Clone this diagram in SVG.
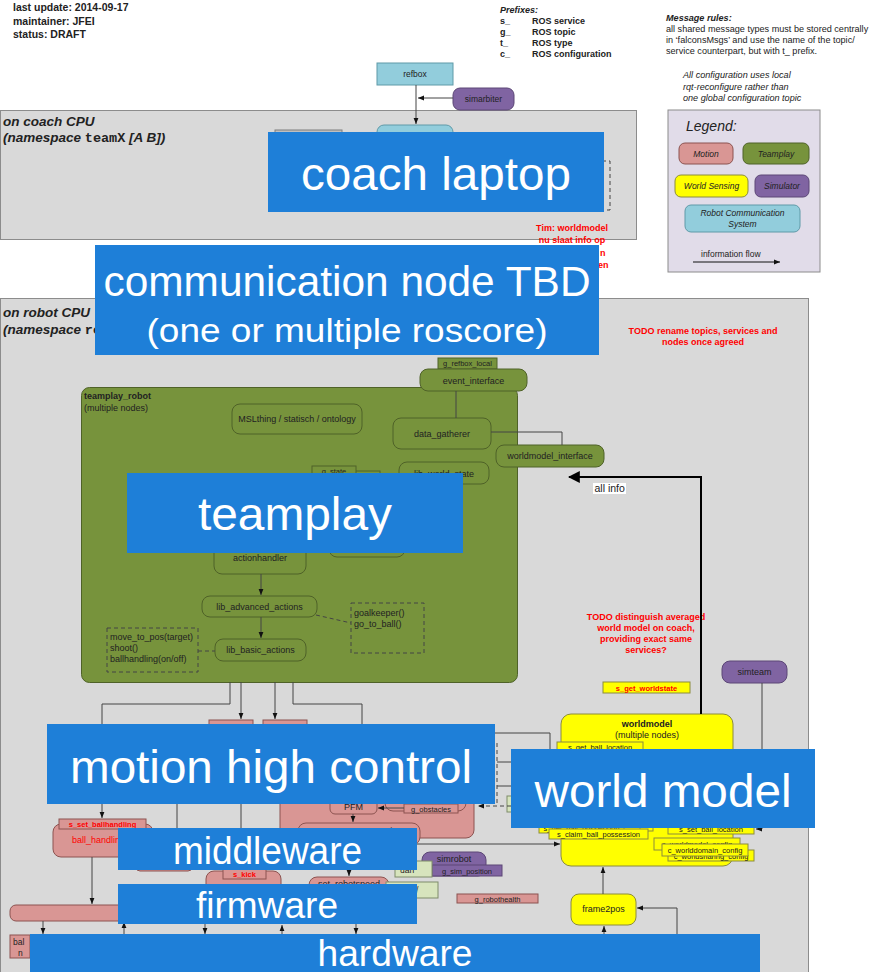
<svg xmlns="http://www.w3.org/2000/svg" width="869" height="972" viewBox="0 0 869 972">
<style>
text{font-family:"Liberation Sans",Arial,sans-serif;fill:#222}
.b{font-weight:bold}
.i{font-style:italic}
.s9{font-size:9px}
.s8{font-size:8.5px}
.s7{font-size:7.5px}
.c{text-anchor:middle}
.red{fill:#ff0000}
.mono{font-family:"Liberation Mono",monospace;font-style:normal}
.box{fill:#d9d9d9;stroke:#8c8c8c;stroke-width:1}
.gr{fill:#77933c;stroke:#4f6228;stroke-width:1}
.sa{fill:#d99694;stroke:#8c5350;stroke-width:1}
.ye{fill:#ffff00;stroke:#8c8c3c;stroke-width:1}
.pu{fill:#8064a2;stroke:#5c4776;stroke-width:1}
.lb{fill:#92cddc;stroke:#5f9aa8;stroke-width:1}
.lg{fill:#d7e4bd;stroke:#7f8c6a;stroke-width:1}
.dash{fill:none;stroke:#444;stroke-width:1;stroke-dasharray:4 3}
.ln{fill:none;stroke:#444;stroke-width:1}
.ov rect{fill:#1e7fd8}
.ov text{fill:#ffffff;text-anchor:middle}
</style>
<defs>
<marker id="ar" viewBox="0 0 10 10" refX="10" refY="5" markerWidth="6" markerHeight="6" orient="auto"><path d="M0,1 L10,5 L0,9 z" fill="#111"/></marker>
<marker id="arb" viewBox="0 0 10 10" refX="9" refY="5" markerWidth="12" markerHeight="12" markerUnits="userSpaceOnUse" orient="auto"><path d="M0,0 L10,5 L0,10 z" fill="#000"/></marker>
</defs>

<g id="header">
<text x="13" y="11" class="b" font-size="10.5">last update: 2014-09-17</text>
<text x="13" y="25" class="b" font-size="10.5">maintainer: JFEI</text>
<text x="13" y="38" class="b" font-size="10.5">status: DRAFT</text>
<text x="500" y="13" class="b i" font-size="9">Prefixes:</text>
<text x="500" y="24" class="b" font-size="9">s_</text><text x="532" y="24" class="b" font-size="9">ROS service</text>
<text x="500" y="35" class="b" font-size="9">g_</text><text x="532" y="35" class="b" font-size="9">ROS topic</text>
<text x="500" y="46" class="b" font-size="9">t_</text><text x="532" y="46" class="b" font-size="9">ROS type</text>
<text x="500" y="57" class="b" font-size="9">c_</text><text x="532" y="57" class="b" font-size="9">ROS configuration</text>
<text x="666" y="21" class="b i" font-size="9.1">Message rules:</text>
<text x="666" y="32" font-size="9.1">all shared message types must be stored centrally</text>
<text x="666" y="43" font-size="9.1">in ‘falconsMsgs’ and use the name of the topic/</text>
<text x="666" y="54" font-size="9.1">service counterpart, but with t_ prefix.</text>
<text x="683" y="78" class="i" font-size="9.1">All configuration uses local</text>
<text x="683" y="90" class="i" font-size="9.1">rqt-reconfigure rather than</text>
<text x="683" y="101" class="i" font-size="9.1">one global configuration topic</text>
</g>

<g id="legend">
<rect x="668" y="110" width="152" height="162" fill="#e1dce9" stroke="#8c8c8c"/>
<text x="686" y="131" class="i" font-size="14">Legend:</text>
<rect x="679" y="143" width="54" height="21" rx="6" class="sa"/>
<text x="706" y="156.5" class="i s8 c">Motion</text>
<rect x="743" y="143" width="66" height="21" rx="6" class="gr"/>
<text x="776" y="156.5" class="i s8 c">Teamplay</text>
<rect x="675" y="175" width="73" height="22" rx="6" class="ye"/>
<text x="711.5" y="189" class="i s8 c">World Sensing</text>
<rect x="755" y="175" width="54" height="22" rx="6" class="pu"/>
<text x="782" y="189" class="i s8 c">Simulator</text>
<rect x="685" y="205" width="115" height="27" rx="6" class="lb"/>
<text x="742.5" y="216" class="i s8 c">Robot Communication</text>
<text x="742.5" y="227" class="i s8 c">System</text>
<text x="701" y="257" font-size="8.5">information flow</text>
<line x1="693" y1="262" x2="780" y2="262" stroke="#111" marker-end="url(#ar)"/>
</g>

<g id="coach-cpu">
<rect x="0.5" y="110.5" width="636" height="129" class="box"/>
<text x="3" y="126" class="b i" font-size="13.5">on coach CPU</text>
<text x="3" y="142" class="b i" font-size="13.5">(namespace <tspan class="mono">teamX</tspan> [A B])</text>
</g>

<g id="refbox"><rect x="377" y="63" width="76" height="22" class="lb"/><text x="415" y="77" class="s8 c">refbox</text></g>
<g id="simarbiter"><rect x="453" y="88" width="61" height="22" rx="7" class="pu"/><text x="483.5" y="102" class="s8 c">simarbiter</text></g>
<g id="coach-node"><rect x="377" y="125" width="76" height="30" rx="7" class="lb"/></g>
<g id="coach-grey-node"><rect x="275" y="130" width="67" height="20" fill="#bfbfbf" stroke="#7f7f7f"/></g>
<g id="coach-dashed"><rect x="560" y="161" width="50" height="49" class="dash"/></g>
<g id="note-tim">
<text x="572" y="231" class="b s9 c red">Tim: worldmodel</text>
<text x="572" y="243" class="b s9 c red">nu slaat info op</text>
<text x="600" y="256" class="b s9 red">n</text>
<text x="598" y="268" class="b s9 red">en</text>
</g>

<g id="robot-cpu">
<rect x="0.5" y="298.5" width="808" height="690" class="box"/>
<text x="3" y="317" class="b i" font-size="13.5">on robot CPU</text>
<text x="3" y="334" class="b i" font-size="13.5">(namespace <tspan class="mono">robotX</tspan>)</text>
<text x="703" y="334" class="b s9 c red">TODO rename topics, services and</text>
<text x="703" y="345" class="b s9 c red">nodes once agreed</text>
</g>

<g id="teamplay_robot">
<rect x="81.5" y="387.5" width="436" height="295" rx="8" class="gr"/>
<text x="84" y="399" class="b s9">teamplay_robot</text>
<text x="84" y="411" class="s9" fill="#333">(multiple nodes)</text>
</g>
<g id="g_refbox_local"><rect x="438" y="358" width="59" height="11" class="gr"/><text x="467.5" y="366" class="s7 c">g_refbox_local</text></g>
<g id="event_interface"><rect x="420" y="369" width="107" height="22" rx="8" class="gr"/><text x="473.5" y="383.5" class="s9 c">event_interface</text></g>
<g id="mslthing"><rect x="232" y="404" width="130" height="30" rx="8" class="gr"/><text x="297" y="422" class="s9 c">MSLthing / statisch / ontology</text></g>
<g id="data_gatherer"><rect x="393" y="418" width="98" height="31" rx="8" class="gr"/><text x="442" y="437" class="s9 c">data_gatherer</text></g>
<g id="worldmodel_interface"><rect x="496" y="445" width="108" height="22" rx="8" class="gr"/><text x="550" y="459" class="s9 c">worldmodel_interface</text></g>
<g id="lib_world_state"><rect x="399" y="462" width="90" height="22" rx="8" class="gr"/><text x="444" y="477" class="s9 c">lib_world_state</text></g>
<g id="g_state"><rect x="340" y="471" width="40" height="12" class="gr"/><rect x="312" y="466" width="44" height="10" class="gr"/><text x="334" y="474" class="s7 c">g_state</text></g>
<g id="actionhandler"><rect x="214" y="530" width="92" height="44" rx="8" class="gr"/><text x="260" y="561" class="s9 c">actionhandler</text></g>
<g id="tp-node-right"><rect x="329" y="527" width="76" height="30" rx="8" class="gr"/></g>
<g id="lib_advanced_actions"><rect x="202" y="596" width="115" height="21" rx="8" class="gr"/><text x="259.5" y="610" class="s9 c">lib_advanced_actions</text></g>
<g id="lib_basic_actions"><rect x="215" y="639" width="91" height="22" rx="8" class="gr"/><text x="260.5" y="653" class="s9 c">lib_basic_actions</text></g>
<g id="adv-note"><rect x="351" y="603" width="73" height="50" class="dash"/><text x="354" y="616" class="s9">goalkeeper()</text><text x="354" y="627" class="s9">go_to_ball()</text></g>
<g id="basic-note"><rect x="107" y="628" width="91" height="44" class="dash"/><text x="110" y="640" class="s9">move_to_pos(target)</text><text x="110" y="651" class="s9">shoot()</text><text x="110" y="662" class="s9">ballhandling(on/off)</text></g>

<g id="note-todo-wm">
<text x="646" y="620" class="b s9 c red">TODO distinguish averaged</text>
<text x="646" y="631" class="b s9 c red">world model on coach,</text>
<text x="646" y="642" class="b s9 c red">providing exact same</text>
<text x="646" y="653" class="b s9 c red">services?</text>
</g>
<g id="simteam"><rect x="722" y="661" width="65" height="22" rx="8" class="pu"/><text x="754.5" y="675" class="s9 c">simteam</text></g>
<g id="s_get_worldstate"><rect x="603" y="682" width="87" height="11" class="ye"/><text x="646.5" y="690.5" class="b s7 c red">s_get_worldstate</text></g>
<g id="worldmodel">
<rect x="561" y="714" width="172" height="152" rx="10" class="ye"/>
<text x="647" y="727" class="b s9 c">worldmodel</text>
<text x="647" y="738" class="s9 c">(multiple nodes)</text>
<rect x="557" y="742" width="86" height="10" class="ye"/><text x="600" y="750" class="s7 c">s_get_ball_location</text>
<rect x="539" y="823" width="85" height="10" class="ye"/><text x="581.5" y="831" class="s7 c">s_get_ball_possession</text>
<rect x="640" y="822" width="13" height="9" class="ye"/>
<rect x="549" y="829" width="99" height="10" class="ye"/><text x="598.5" y="837" class="s7 c">s_claim_ball_possession</text>
<rect x="668" y="824" width="86" height="10" class="ye"/><text x="711" y="832" class="s7 c">s_set_ball_location</text>
<rect x="654" y="838" width="86" height="12" class="ye"/><text x="697" y="847" class="s7 c">c_worldmodel_config</text>
<rect x="668" y="850" width="86" height="11" class="ye"/><text x="711" y="858.5" class="s7 c">c_worldsharing_config</text>
<rect x="662" y="844" width="86" height="12" class="ye"/><text x="705" y="853" class="s7 c">c_worlddomain_config</text>
</g>
<g id="frame2pos"><rect x="571" y="894" width="65" height="31" rx="8" class="ye"/><text x="603.5" y="912" class="s9 c">frame2pos</text></g>

<g id="motion-services"><rect x="209" y="720" width="44" height="10" class="sa"/><rect x="263" y="720" width="44" height="10" class="sa"/></g>
<g id="pfm-group">
<rect x="280" y="770" width="194" height="68" rx="8" class="sa"/>
<rect x="385" y="786" width="81" height="25" rx="8" class="sa"/>
<rect x="330" y="796" width="47" height="18" rx="5" class="sa"/><text x="353.5" y="810" class="s9 c">PFM</text>
<rect x="404" y="804" width="54" height="9" class="sa"/><text x="431" y="811.5" class="s7 c">g_obstacles</text>
<rect x="298" y="823" width="122" height="22" rx="8" class="sa"/><text x="359" y="834" class="s9 c">movement_constraints</text>
</g>
<g id="wm-side"><rect x="507" y="796" width="10" height="16" class="lg"/></g>
<g id="ball_handling">
<rect x="53" y="824" width="100" height="33" rx="8" class="sa"/>
<rect x="59" y="819" width="87" height="10" class="sa"/><text x="102.5" y="827" class="b s7 c red">s_set_ballhandling</text>
<text x="72" y="843" class="s9 red">ball_handling</text>
</g>
<g id="mw-node"><rect x="136" y="850" width="56" height="21" rx="4" class="sa" stroke="#555"/></g>
<g id="simrobot">
<rect x="422" y="852" width="64" height="24" rx="8" class="pu"/><text x="454" y="862" class="s9 c">simrobot</text>
<rect x="432" y="865" width="70" height="11" class="pu"/><text x="467" y="873.5" class="s7 c">g_sim_position</text>
</g>
<g id="lg-node1"><rect x="395" y="861" width="37" height="16" class="lg"/><text x="400" y="873" class="s8">uan</text></g>
<g id="s_kick"><rect x="206" y="871" width="75" height="40" rx="8" class="sa"/><rect x="223" y="869" width="43" height="10" class="sa"/><text x="244.5" y="877" class="b s7 c red">s_kick</text></g>
<g id="set_robotspeed"><rect x="309" y="877" width="80" height="30" rx="8" class="sa"/><text x="349" y="887" class="s9 c">set_robotspeed</text></g>
<g id="lg-node2"><rect x="386" y="882" width="52" height="16" class="lg"/><text x="416" y="893" class="s8">/</text></g>
<g id="g_robothealth"><rect x="457" y="894" width="81" height="9" class="sa"/><text x="497.5" y="901.5" class="s7 c">g_robothealth</text></g>
<g id="low-bar"><rect x="10" y="905" width="170" height="16" rx="6" class="sa"/></g>
<g id="bal-node"><rect x="10" y="935" width="20" height="23" class="sa"/><text x="13" y="945" class="s8">bal</text><text x="18" y="956" class="s8">n</text></g>

<g id="connectors">
<line x1="416" y1="85" x2="416" y2="124" class="ln" marker-end="url(#ar)"/>
<line x1="453" y1="98" x2="418" y2="98" class="ln" marker-end="url(#ar)"/>
<line x1="456" y1="391" x2="456" y2="418" class="ln"/>
<polyline points="491,432 562,432 562,445" class="ln"/>
<line x1="261" y1="574" x2="261" y2="595" class="ln" marker-end="url(#ar)"/>
<line x1="261" y1="617" x2="261" y2="638" class="ln" marker-end="url(#ar)"/>
<line x1="316" y1="615" x2="351" y2="623" class="dash"/>
<line x1="198" y1="651" x2="215" y2="651" class="dash"/>
<polyline points="701,714 701,477 569,477" fill="none" stroke="#000" stroke-width="2" marker-end="url(#arb)"/>
<polyline points="762,683 762,829 756,829" class="ln" marker-end="url(#ar)"/>
<polyline points="230,682 230,704 102,704 102,818" class="ln" marker-end="url(#ar)"/>
<line x1="241" y1="682" x2="241" y2="719" class="ln" marker-end="url(#ar)"/>
<line x1="275" y1="682" x2="275" y2="719" class="ln" marker-end="url(#ar)"/>
<polyline points="293,682 293,704 362,704 362,724" class="ln"/>
<line x1="177" y1="803" x2="177" y2="828" class="ln"/>
<line x1="241" y1="803" x2="241" y2="828" class="ln"/>
<polyline points="475,733 550,733 550,750" class="ln"/>
<line x1="497" y1="743" x2="497" y2="806" class="dash"/>
<line x1="497" y1="762" x2="511" y2="762" class="ln"/>
<line x1="497" y1="786" x2="511" y2="786" class="ln"/>
<line x1="511" y1="806" x2="478" y2="806" class="dash" marker-end="url(#ar)"/>
<line x1="404" y1="808" x2="378" y2="808" class="ln" marker-end="url(#ar)"/>
<line x1="353" y1="814" x2="353" y2="822" class="ln" marker-end="url(#ar)"/>
<line x1="92" y1="857" x2="92" y2="904" class="ln" marker-end="url(#ar)"/>
<line x1="400" y1="844" x2="560" y2="844" class="ln" marker-end="url(#ar)"/>
<line x1="349" y1="862" x2="349" y2="876" class="ln" marker-end="url(#ar)"/>
<line x1="603" y1="894" x2="603" y2="867" class="ln" marker-end="url(#ar)"/>
<polyline points="677,972 677,908 637,908" class="ln" marker-end="url(#ar)"/>
<line x1="604" y1="934" x2="604" y2="926" class="ln" marker-end="url(#ar)"/>
<line x1="43" y1="921" x2="43" y2="934" class="ln" marker-end="url(#ar)"/>
<line x1="205" y1="924" x2="205" y2="934" class="ln" marker-end="url(#ar)"/>
<line x1="356" y1="924" x2="356" y2="934" class="ln" marker-end="url(#ar)"/>
<line x1="124" y1="934" x2="124" y2="922" class="ln" marker-end="url(#ar)"/>
<line x1="282" y1="934" x2="282" y2="925" class="ln" marker-end="url(#ar)"/>
</g>

<g id="label-all-info"><rect x="593" y="483" width="33" height="11" fill="#ffffff"/><text x="594.5" y="492" font-size="10.5" fill="#333">all info</text></g>

<g id="ov-coach-laptop" class="ov"><rect x="268" y="132" width="336" height="80"/><text x="436" y="190" font-size="47" textLength="270" lengthAdjust="spacingAndGlyphs">coach laptop</text></g>
<g id="ov-communication" class="ov"><rect x="95" y="245" width="504" height="110"/><text x="347" y="296" font-size="42" textLength="487" lengthAdjust="spacingAndGlyphs">communication node TBD</text><text x="347" y="342" font-size="34" textLength="401" lengthAdjust="spacingAndGlyphs">(one or multiple roscore)</text></g>
<g id="ov-teamplay" class="ov"><rect x="127" y="473" width="336" height="80"/><text x="295" y="530" font-size="47" textLength="194" lengthAdjust="spacingAndGlyphs">teamplay</text></g>
<g id="ov-motion" class="ov"><rect x="47" y="724" width="448" height="80"/><text x="271" y="783" font-size="47" textLength="402" lengthAdjust="spacingAndGlyphs">motion high control</text></g>
<g id="ov-world-model" class="ov"><rect x="511" y="749" width="304" height="79"/><text x="663" y="807" font-size="47" textLength="257" lengthAdjust="spacingAndGlyphs">world model</text></g>
<g id="ov-middleware" class="ov"><rect x="118" y="828" width="299" height="42"/><text x="267.5" y="864" font-size="38" textLength="189" lengthAdjust="spacingAndGlyphs">middleware</text></g>
<g id="ov-firmware" class="ov"><rect x="118" y="884" width="299" height="40"/><text x="267" y="918" font-size="37" textLength="142" lengthAdjust="spacingAndGlyphs">firmware</text></g>
<g id="ov-hardware" class="ov"><rect x="30" y="934" width="730" height="38"/><text x="395" y="966" font-size="36" textLength="155" lengthAdjust="spacingAndGlyphs">hardware</text></g>
</svg>
